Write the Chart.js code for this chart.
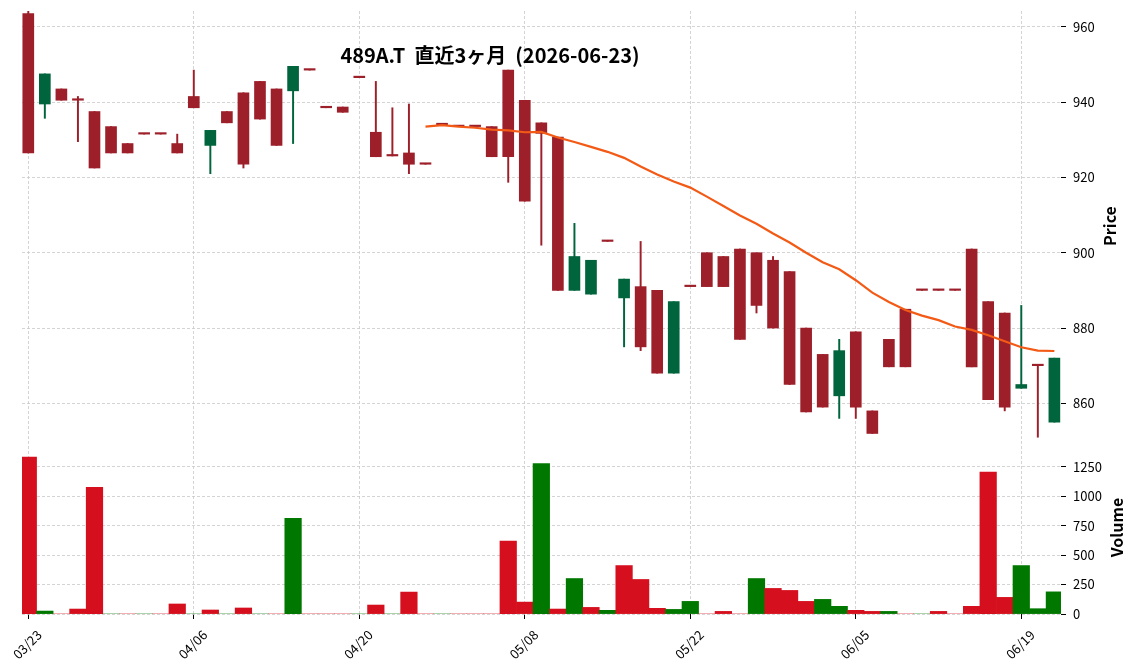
<!DOCTYPE html>
<html>
<head>
<meta charset="utf-8">
<script src="https://cdn.jsdelivr.net/npm/chart.js@4.4.1/dist/chart.umd.min.js"></script>
<style>
    html, body { margin: 0; padding: 0; background: #fff; }
    #wrap { width: 1137px; height: 670px; }
</style>
</head>
<body>
<div id="wrap"><canvas id="barCanvas" width="1137" height="670"></canvas></div>
<script>
// Datas (63 seances)
const DateDatas = [
    "03/23", "03/24", "03/25", "03/26", "03/27", "03/30", "03/31", "04/01", "04/02", "04/03",
    "04/06", "04/07", "04/08", "04/09", "04/10", "04/13", "04/14", "04/15", "04/16", "04/17",
    "04/20", "04/21", "04/22", "04/23", "04/24", "04/27", "04/28", "04/30", "05/01", "05/07",
    "05/08", "05/11", "05/12", "05/13", "05/14", "05/15", "05/18", "05/19", "05/20", "05/21",
    "05/22", "05/25", "05/26", "05/27", "05/28", "05/29", "06/01", "06/02", "06/03", "06/04",
    "06/05", "06/08", "06/09", "06/10", "06/11", "06/12", "06/15", "06/16", "06/17", "06/18",
    "06/19", "06/22", "06/23"
]
const OpenDatas = [
    963.5, 939.5, 943.5, 940.5, 937.5, 933.5, 929, 931.5, 931.5, 929,
    941.5, 928.5, 937.5, 942.5, 945.5, 943.5, 943, 948.5, 938.5, 938.7,
    946.5, 932, 925.7, 926.5, 923.5, 934, 933.5, 933.5, 933.5, 948.5,
    940.5, 934.5, 930.7, 890, 889, 903, 888, 891, 890, 868,
    891, 900, 899, 901, 900, 898, 895, 880, 873, 862,
    879, 858, 877, 885, 890, 890, 890, 901, 887, 884,
    864, 870, 855
]
const HighDatas = [
    964.2, 947.5, 943.5, 941.5, 937.5, 933.5, 929, 931.5, 931.5, 931.5,
    948.5, 932.5, 937.5, 942.5, 945.5, 943.5, 949.5, 948.5, 938.5, 938.7,
    946.5, 945.5, 938.5, 939.5, 923.5, 934, 933.5, 933.5, 933.5, 948.5,
    940.5, 934.5, 930.7, 907.8, 898, 903, 893, 903, 890, 887,
    891, 900, 899, 901, 900, 899, 895, 880, 873, 877,
    879, 858, 877, 885, 890, 890, 890, 901, 887, 884,
    886, 870, 872
]
const LowDatas = [
    926.5, 935.7, 940.5, 929.5, 922.5, 926.5, 926.5, 931.5, 931.5, 926.5,
    938.5, 921, 934.5, 922.5, 935.5, 928.5, 929, 948.5, 938.5, 937.3,
    946.5, 925.5, 925.7, 921, 923.5, 934, 933.5, 933.5, 925.5, 918.7,
    913.7, 902, 890, 890, 889, 903, 875, 874, 868, 868,
    891, 891, 891, 877, 884, 880, 865, 857.7, 859, 856,
    856, 852, 869.7, 869.7, 890, 890, 890, 869.7, 861, 858,
    864, 851, 855
]
const CloseDatas = [
    926.5, 947.5, 940.5, 940.5, 922.5, 926.5, 926.5, 931.5, 931.5, 926.5,
    938.5, 932.5, 934.5, 923.5, 935.5, 928.5, 949.5, 948.5, 938.5, 937.3,
    946.5, 925.5, 925.7, 923.5, 923.5, 934, 933.5, 933.5, 925.5, 925.5,
    913.7, 931.7, 890, 899, 898, 903, 893, 875, 868, 887,
    891, 891, 891, 877, 886, 880, 865, 857.7, 859, 874,
    859, 852, 869.7, 869.7, 890, 890, 890, 869.7, 861, 859,
    865, 870, 872
]
const VolumeDatas = [
    1332, 25, 0, 42, 1074, 0, 0, 0, 0, 85,
    0, 34, 0, 51, 0, 0, 812, 0, 0, 0,
    0, 76, 0, 186, 0, 0, 0, 0, 0, 618,
    101, 1277, 42, 301, 56, 31, 411, 293, 48, 39,
    107, 0, 22, 0, 301, 217, 200, 107, 124, 65,
    31, 22, 22, 0, 0, 22, 0, 65, 1205, 141,
    411, 45, 188
]
const Mav25Datas = [
    null, null, null, null, null, null, null, null, null, null,
    null, null, null, null, null, null, null, null, null, null,
    null, null, null, null, 933.5, 933.9, 933.5, 933.2, 932.7, 932.5,
    932.0, 932.1, 930.6, 929.4, 928.1, 926.8, 925.2, 922.9, 920.8, 918.9,
    917.3, 914.9, 912.4, 909.9, 907.7, 905.1, 902.7, 900.0, 897.5, 895.6,
    892.7, 889.4, 886.9, 884.8, 883.3, 882.1, 880.4, 879.5, 878.1, 876.5,
    874.9, 874.0, 873.9
]
const TickIndex = [0, 10, 20, 30, 40, 50, 60]
const PriceTicks = [860, 880, 900, 920, 940, 960]
const VolumeTicks = [0, 250, 500, 750, 1000, 1250]
const Titre = "489A.T  直近3ヶ月  (2026-06-23)"

function Initialisation() {
    let Police = '"Noto Sans CJK JP", "Noto Sans", sans-serif'

    // couleurs
    let Rouge = "#9d1f2a"
    let Vert = "#00643c"
    let RougeVol = "#d50f1d"
    let VertVol = "#007800"
    let Orange = "#f25a16"
    let Grille = "#c9c9c9"

    let Index = DateDatas.map((d, i) => i)

    function CouleurBougie(i) {
        return CloseDatas[i] > OpenDatas[i] ? Vert : Rouge
    }
    function CouleurVolume(i) { // comparé a la cloture de la veille
        if (i == 0) return CloseDatas[0] > OpenDatas[0] ? VertVol : RougeVol
        return CloseDatas[i] > CloseDatas[i - 1] ? VertVol : RougeVol
    }

    // titre + noms des axes (lus de bas en haut comme matplotlib)
    const TextesPlugin = {
        id: "textes",
        afterDraw(chart) {
            let ctx = chart.ctx
            let yP = chart.scales.y
            let yV = chart.scales.yv
            ctx.save()
            ctx.fillStyle = "#000"
            ctx.textAlign = "center"
            ctx.textBaseline = "middle"
            ctx.font = "bold 20px " + Police
            ctx.fillText(Titre, 490, 55)
            ctx.font = "bold 16px " + Police
            ctx.save()
            ctx.translate(yP.right - 27, (yP.top + yP.bottom) / 2)
            ctx.rotate(-Math.PI / 2)
            ctx.fillText("Price", 0, 0)
            ctx.restore()
            ctx.save()
            ctx.translate(yV.right - 20, (yV.top + yV.bottom) / 2)
            ctx.rotate(-Math.PI / 2)
            ctx.fillText("Volume", 0, 0)
            ctx.restore()
            ctx.restore()
        }
    }

    let TickFont = {family: Police, size: 13}

    // pas de marge auto autour des axes, on veut la zone exacte
    function FitY(scale) {
        scale.width = 76
        scale.paddingTop = 0
        scale.paddingBottom = 0
    }

    const barCanvas = document.getElementById("barCanvas")
    const barChart = new Chart(barCanvas, {
        type: "bar",
        data: {
            datasets: [
                { // moyenne mobile
                    type: "line",
                    data: Index.map(i => ({x: i, y: Mav25Datas[i]})),
                    yAxisID: "y",
                    borderColor: Orange,
                    borderWidth: 2.2,
                    pointRadius: 0,
                    tension: 0,
                    order: 0
                },
                { // corps des bougies
                    data: Index.map(i => ({x: i, y: [OpenDatas[i], CloseDatas[i]]})),
                    yAxisID: "y",
                    backgroundColor: ctx => CouleurBougie(ctx.dataIndex),
                    barThickness: 11,
                    minBarLength: 1.5,
                    grouped: false,
                    order: 1
                },
                { // meches
                    data: Index.map(i => ({x: i, y: [LowDatas[i], HighDatas[i]]})),
                    yAxisID: "y",
                    backgroundColor: ctx => CouleurBougie(ctx.dataIndex),
                    barThickness: 1.3,
                    grouped: false,
                    order: 2
                },
                { // volume
                    data: Index.map(i => ({x: i, y: VolumeDatas[i]})),
                    yAxisID: "yv",
                    backgroundColor: ctx => CouleurVolume(ctx.dataIndex),
                    barPercentage: 1,
                    categoryPercentage: 1,
                    grouped: false,
                    clip: 0,
                    order: 3
                }
            ]
        },
        options: {
            responsive: false,
            animation: false,
            layout: {padding: {left: 22, top: 11, right: 0, bottom: 0}},
            plugins: {
                legend: {display: false},
                tooltip: {enabled: false}
            },
            scales: {
                x: {
                    type: "linear",
                    offset: false,
                    min: -0.38,
                    max: 62.4,
                    afterBuildTicks: scale => {
                        scale.ticks = TickIndex.map(v => ({value: v}))
                    },
                    afterFit: scale => {
                        scale.height = 56
                        scale.paddingLeft = 0
                        scale.paddingRight = 0
                    },
                    grid: {
                        color: Grille,
                        lineWidth: 0.8,
                        offset: false,
                        tickLength: 5,
                        tickColor: "#000",
                        tickWidth: 1,
                        tickBorderDash: []
                    },
                    border: {display: false, dash: [3, 2]},
                    ticks: {
                        autoSkip: false,
                        maxRotation: 45,
                        minRotation: 45,
                        labelOffset: 11,
                        padding: 8,
                        color: "#000",
                        font: TickFont,
                        callback: v => DateDatas[v]
                    }
                },
                y: { // prix
                    type: "linear",
                    position: "right",
                    stack: "panneaux",
                    stackWeight: 430,
                    min: 850,
                    max: 964.2,
                    afterBuildTicks: scale => {
                        scale.ticks = PriceTicks.map(v => ({value: v}))
                    },
                    afterFit: FitY,
                    grid: {
                        color: Grille,
                        lineWidth: 0.8,
                        tickLength: 5,
                        tickColor: "#000",
                        tickWidth: 1,
                        tickBorderDash: []
                    },
                    border: {display: false, dash: [3, 2]},
                    ticks: {
                        padding: 7,
                        color: "#000",
                        font: TickFont,
                        callback: v => String(v)
                    }
                },
                yv: { // volume
                    type: "linear",
                    position: "right",
                    stack: "panneaux",
                    stackWeight: 173,
                    min: 0,
                    max: 1468,
                    afterBuildTicks: scale => {
                        scale.ticks = VolumeTicks.map(v => ({value: v}))
                    },
                    afterFit: FitY,
                    grid: {
                        color: Grille,
                        lineWidth: 0.8,
                        tickLength: 5,
                        tickColor: "#000",
                        tickWidth: 1,
                        tickBorderDash: []
                    },
                    border: {display: false, dash: [3, 2]},
                    ticks: {
                        padding: 7,
                        color: "#000",
                        font: TickFont,
                        callback: v => String(v)
                    }
                }
            }
        },
        plugins: [TextesPlugin]
    })
}

window.addEventListener("DOMContentLoaded", () => {
    Initialisation()
})
</script>
</body>
</html>
